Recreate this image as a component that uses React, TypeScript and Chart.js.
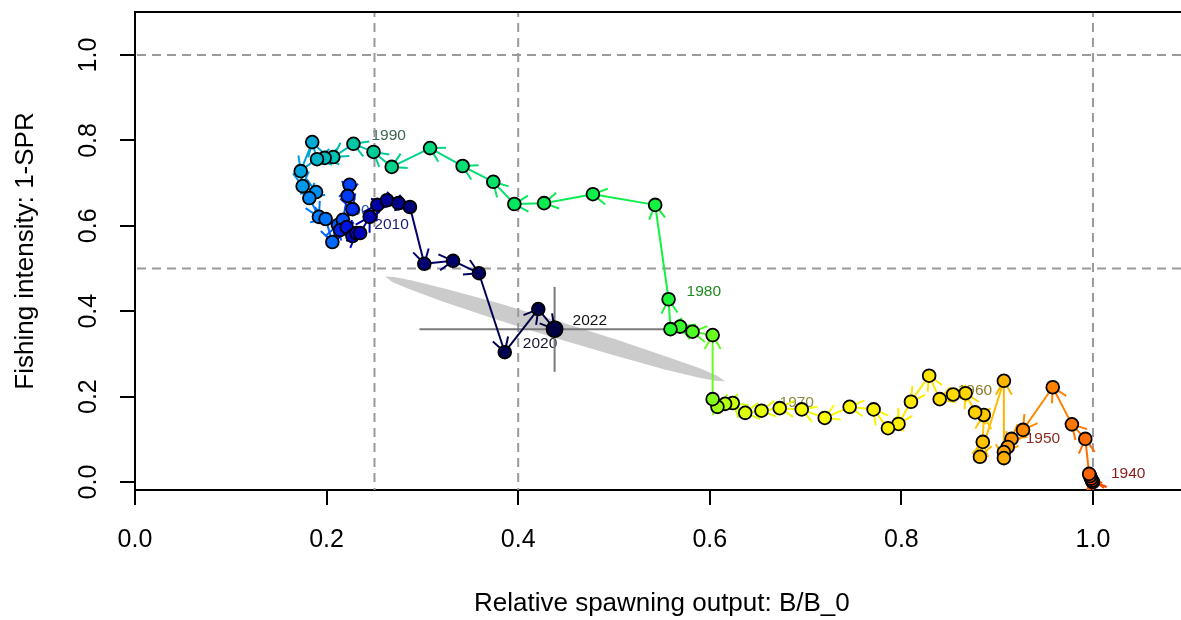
import React, { useEffect, useRef } from 'react';
import { Chart, registerables } from 'chart.js';

Chart.register(...registerables);

// ---- data ----
const years = [
  1940, 1941, 1942, 1943, 1944, 1945, 1946, 1947, 1948, 1949,
  1950, 1951, 1952, 1953, 1954, 1955, 1956, 1957, 1958, 1959,
  1960, 1961, 1962, 1963, 1964, 1965, 1966, 1967, 1968, 1969,
  1970, 1971, 1972, 1973, 1974, 1975, 1976, 1977, 1978, 1979,
  1980, 1981, 1982, 1983, 1984, 1985, 1986, 1987, 1988, 1989,
  1990, 1991, 1992, 1993, 1994, 1995, 1996, 1997, 1998, 1999,
  2000, 2001, 2002, 2003, 2004, 2005, 2006, 2007, 2008, 2009,
  2010, 2011, 2012, 2013, 2014, 2015, 2016, 2017, 2018, 2019,
  2020, 2021, 2022,
];

const relSpawning = [
  1.000, 0.999, 0.998, 0.997, 0.996, 0.992, 0.978, 0.958, 0.927, 0.915,
  0.911, 0.907, 0.907, 0.907, 0.882, 0.885, 0.886, 0.877, 0.867, 0.854,
  0.840, 0.829, 0.810, 0.797, 0.786, 0.771, 0.746, 0.720, 0.696, 0.673,
  0.654, 0.637, 0.624, 0.616, 0.608, 0.603, 0.603, 0.582, 0.569, 0.559,
  0.557, 0.543, 0.478, 0.427, 0.396, 0.374, 0.342, 0.308, 0.268, 0.249,
  0.228, 0.207, 0.198, 0.190, 0.185, 0.173, 0.175, 0.189, 0.182, 0.192,
  0.199, 0.206, 0.212, 0.217, 0.224, 0.222, 0.227, 0.214, 0.221, 0.227,
  0.231, 0.235, 0.245, 0.253, 0.263, 0.275, 0.287, 0.302, 0.332, 0.359,
  0.386, 0.421, 0.438,
];

const fishingIntensity = [
  0.000, 0.003, 0.008, 0.014, 0.019, 0.101, 0.135, 0.222, 0.122, 0.101,
  0.082, 0.070, 0.056, 0.237, 0.059, 0.094, 0.157, 0.163, 0.208, 0.205,
  0.194, 0.249, 0.188, 0.136, 0.126, 0.170, 0.176, 0.150, 0.170, 0.173,
  0.167, 0.162, 0.185, 0.183, 0.176, 0.194, 0.344, 0.352, 0.364, 0.358,
  0.428, 0.649, 0.674, 0.653, 0.651, 0.703, 0.740, 0.782, 0.738, 0.773,
  0.792, 0.761, 0.759, 0.756, 0.796, 0.728, 0.693, 0.679, 0.665, 0.621,
  0.616, 0.562, 0.602, 0.614, 0.696, 0.670, 0.639, 0.590, 0.597, 0.576,
  0.583, 0.583, 0.621, 0.649, 0.660, 0.653, 0.644, 0.511, 0.518, 0.489,
  0.304, 0.405, 0.358,
];

const labelYears = [1940, 1950, 1960, 1970, 1980, 1990, 2000, 2010, 2020, 2022];
const labelColors = ['#8b1a1a', '#8b2a22', '#8b7828', '#8a8a40', '#1f8b1f', '#3a6650', '#2a55a8', '#1c1c7a', '#161630', '#111111'];

const xTicks = [0.0, 0.2, 0.4, 0.6, 0.8, 1.0];
const yTicks = [0.0, 0.2, 0.4, 0.6, 0.8, 1.0];
const refLinesX = [0.25, 0.4, 1.0];
const refLinesY = [0.5, 1.0];

// uncertainty ellipse outline for the final year
const ellipseX = [0.261, 0.271, 0.289, 0.325, 0.379, 0.441, 0.503, 0.556, 0.591, 0.608, 0.616, 0.606, 0.588, 0.552, 0.498, 0.436, 0.374, 0.321, 0.286, 0.269, 0.261];
const ellipseY = [0.481, 0.480, 0.472, 0.452, 0.419, 0.377, 0.333, 0.293, 0.265, 0.248, 0.236, 0.237, 0.245, 0.264, 0.298, 0.339, 0.383, 0.423, 0.452, 0.468, 0.481];

// interval bars for the final year
const intervalX = [0.297, 0.58];
const intervalY = [0.258, 0.457];

const X_MIN = 0;
const X_MAX = 1.0919;
const Y_MIN = -0.0187;
const Y_MAX = 1.1007;

const FONT = '"Liberation Sans", Arial, Helvetica, sans-serif';

// rich.colors.short palette, reversed (red -> navy)
function richColorsShort(n: number): string[] {
  const xs: number[] = [];
  for (let i = 0; i < n; i++) xs.push(n === 1 ? 0 : i / (n - 1));
  const dn = (x: number) => Math.exp(-0.5 * Math.pow((x - 0.25) / 0.15, 2));
  const maxB = Math.max(...xs.map(dn));
  return xs.map((x) => {
    const r = 1 / (1 + Math.exp(20 - 35 * x));
    const g = Math.min(Math.max(0, -0.8 + 6 * x - 5 * x * x), 1);
    const b = dn(x) / maxB;
    return `rgb(${Math.round(r * 255)},${Math.round(g * 255)},${Math.round(b * 255)})`;
  });
}

const pointColors = richColorsShort(years.length).reverse();

export default function App() {
  const canvasRef = useRef<HTMLCanvasElement>(null);

  useEffect(() => {
    document.body.style.margin = '0';
    const canvas = canvasRef.current;
    if (!canvas) return;

    const pts = years.map((_, i) => ({ x: relSpawning[i], y: fishingIntensity[i] }));
    const datasets: any[] = [];

    datasets.push({
      type: 'line',
      data: ellipseX.map((x, i) => ({ x, y: ellipseY[i] })),
      backgroundColor: '#cbcbcb',
      borderWidth: 0,
      borderColor: 'rgba(0,0,0,0)',
      pointRadius: 0,
      fill: 'shape',
      tension: 0,
      order: 9,
    });

    refLinesX.forEach((v) => {
      datasets.push({
        type: 'line',
        data: [{ x: v, y: Y_MIN - 1 }, { x: v, y: Y_MAX + 1 }],
        borderColor: '#9a9a9a',
        borderWidth: 2,
        borderDash: [9, 6],
        pointRadius: 0,
        fill: false,
        order: 8,
      });
    });
    refLinesY.forEach((v) => {
      datasets.push({
        type: 'line',
        data: [{ x: X_MIN - 1, y: v }, { x: X_MAX + 1, y: v }],
        borderColor: '#9a9a9a',
        borderWidth: 2,
        borderDash: [9, 6],
        pointRadius: 0,
        fill: false,
        order: 8,
      });
    });

    const last = years.length - 1;
    datasets.push({
      type: 'line',
      data: [{ x: intervalX[0], y: fishingIntensity[last] }, { x: intervalX[1], y: fishingIntensity[last] }],
      borderColor: '#7a7a7a',
      borderWidth: 2,
      pointRadius: 0,
      fill: false,
      order: 7,
    });
    datasets.push({
      type: 'line',
      data: [{ x: relSpawning[last], y: intervalY[0] }, { x: relSpawning[last], y: intervalY[1] }],
      borderColor: '#7a7a7a',
      borderWidth: 2,
      pointRadius: 0,
      fill: false,
      order: 7,
    });

    const PATH_INDEX = datasets.length;
    datasets.push({
      type: 'line',
      data: pts,
      borderWidth: 2,
      borderColor: pointColors[1],
      segment: { borderColor: (ctx: any) => pointColors[ctx.p1DataIndex] },
      pointRadius: 0,
      fill: false,
      tension: 0,
      order: 5,
    });

    datasets.push({
      type: 'scatter',
      data: pts,
      pointRadius: years.map((_, i) => (i === last ? 8 : 6.4)),
      pointBackgroundColor: pointColors,
      pointBorderColor: '#000000',
      pointBorderWidth: 1.8,
      order: 1,
    });

    const phasePlugin = {
      id: 'phasePlugin',
      beforeDatasetsDraw(chart: any) {
        const { ctx, scales } = chart;
        ctx.save();
        ctx.font = `15.5px ${FONT}`;
        ctx.textAlign = 'left';
        ctx.textBaseline = 'middle';
        labelYears.forEach((yr, k) => {
          const i = years.indexOf(yr);
          if (i < 0) return;
          const px = scales.x.getPixelForValue(relSpawning[i]) + 18;
          const py = scales.y.getPixelForValue(fishingIntensity[i]) - 8;
          ctx.fillStyle = labelColors[k];
          ctx.fillText(String(yr), px, py);
        });
        ctx.restore();
      },
      afterDatasetDraw(chart: any, args: any) {
        if (args.index !== PATH_INDEX) return;
        const { ctx } = chart;
        const meta = chart.getDatasetMeta(PATH_INDEX);
        const els = meta.data;
        ctx.save();
        ctx.beginPath();
        ctx.rect(chart.chartArea.left, chart.chartArea.top, chart.chartArea.right - chart.chartArea.left, chart.chartArea.bottom - chart.chartArea.top);
        ctx.clip();
        ctx.lineWidth = 2;
        ctx.lineCap = 'butt';
        const L = 16;
        const A = Math.PI / 6;
        for (let i = 1; i < els.length; i++) {
          const p0 = els[i - 1];
          const p1 = els[i];
          const dx = p1.x - p0.x;
          const dy = p1.y - p0.y;
          if (Math.hypot(dx, dy) < 1.5) continue;
          const ang = Math.atan2(dy, dx);
          ctx.strokeStyle = pointColors[i];
          ctx.beginPath();
          for (const s of [-1, 1]) {
            const a = ang + Math.PI + s * A;
            ctx.moveTo(p1.x, p1.y);
            ctx.lineTo(p1.x + L * Math.cos(a), p1.y + L * Math.sin(a));
          }
          ctx.stroke();
        }
        ctx.restore();
      },
      afterDraw(chart: any) {
        const { ctx, chartArea, scales } = chart;
        ctx.save();
        // top frame line
        ctx.strokeStyle = '#000';
        ctx.lineWidth = 2;
        ctx.beginPath();
        ctx.moveTo(chartArea.left, chartArea.top);
        ctx.lineTo(chartArea.right + 2, chartArea.top);
        ctx.stroke();

        ctx.fillStyle = '#000';
        ctx.font = `25px ${FONT}`;
        ctx.textAlign = 'center';
        ctx.textBaseline = 'middle';
        xTicks.forEach((v) => {
          ctx.fillText(v.toFixed(1), scales.x.getPixelForValue(v), 540);
        });
        yTicks.forEach((v) => {
          ctx.save();
          ctx.translate(89, scales.y.getPixelForValue(v));
          ctx.rotate(-Math.PI / 2);
          ctx.fillText(v.toFixed(1), 0, 0);
          ctx.restore();
        });

        ctx.font = `26px ${FONT}`;
        ctx.fillText('Relative spawning output: B/B_0', scales.x.getPixelForValue(0.55), 604);
        ctx.save();
        ctx.translate(26, scales.y.getPixelForValue((Y_MIN + Y_MAX) / 2));
        ctx.rotate(-Math.PI / 2);
        ctx.fillText('Fishing intensity: 1-SPR', 0, 0);
        ctx.restore();
        ctx.restore();
      },
    };

    const chart = new Chart(canvas, {
      type: 'scatter',
      data: { datasets },
      options: {
        responsive: false,
        animation: false,
        devicePixelRatio: 1,
        events: [],
        layout: { autoPadding: false, padding: { top: 12, left: 0, right: 0, bottom: 0 } },
        plugins: { legend: { display: false }, tooltip: { enabled: false }, title: { display: false } },
        scales: {
          x: {
            type: 'linear',
            min: X_MIN,
            max: X_MAX,
            afterBuildTicks: (scale: any) => {
              scale.ticks = xTicks.map((v) => ({ value: v }));
            },
            afterFit: (scale: any) => {
              scale.height = 130;
              scale.paddingLeft = 0;
              scale.paddingRight = 0;
            },
            ticks: { display: false },
            grid: { display: true, drawOnChartArea: false, drawTicks: true, tickLength: 15, color: '#000', lineWidth: 2 },
            border: { display: true, color: '#000', width: 2 },
          },
          y: {
            type: 'linear',
            min: Y_MIN,
            max: Y_MAX,
            afterBuildTicks: (scale: any) => {
              scale.ticks = yTicks.map((v) => ({ value: v }));
            },
            afterFit: (scale: any) => {
              scale.width = 135;
              scale.paddingTop = 0;
              scale.paddingBottom = 0;
            },
            ticks: { display: false },
            grid: { display: true, drawOnChartArea: false, drawTicks: true, tickLength: 15, color: '#000', lineWidth: 2 },
            border: { display: true, color: '#000', width: 2 },
          },
        },
      } as any,
      plugins: [phasePlugin],
    } as any);

    return () => chart.destroy();
  }, []);

  return (
    <div style={{ width: 1181, height: 620, background: '#ffffff' }}>
      <canvas ref={canvasRef} width={1181} height={620} style={{ display: 'block' }} />
    </div>
  );
}
